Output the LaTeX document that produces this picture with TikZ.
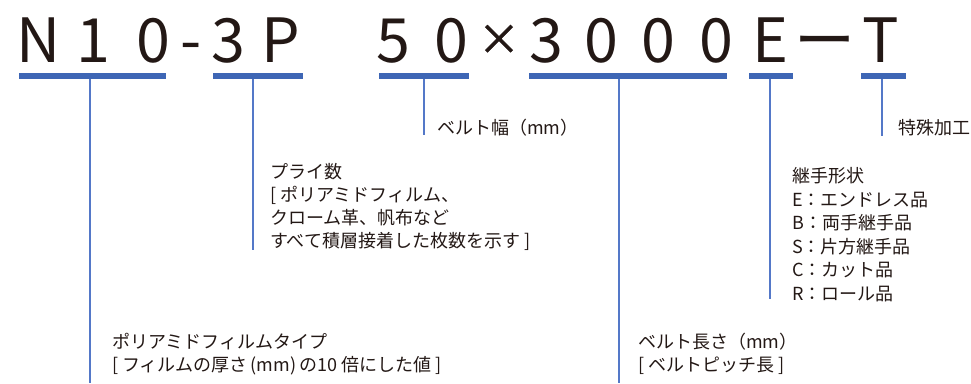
\documentclass[tikz,border=0pt]{standalone}
\usepackage{fontspec}
\newfontfamily\jp{Noto Sans CJK JP}
\newfontfamily\jpx[FakeBold=1.6]{Noto Sans CJK JP}
\definecolor{ink}{RGB}{35,24,21}
\definecolor{barblue}{RGB}{62,102,181}
\definecolor{stemblue}{RGB}{84,120,200}
\tikzset{
  bigch/.style={anchor=base, inner sep=0pt, text=ink, font=\jp\fontsize{61}{61}\selectfont},
  lbl/.style={anchor=base west, inner sep=0pt, text=ink, font=\jp\fontsize{18}{23.5}\selectfont},
  barnode/.style={fill=barblue, draw=none, inner sep=0pt, minimum height=5.5pt},
  stem/.style={draw=stemblue, line width=2pt}
}
\begin{document}
\begin{tikzpicture}[x=1pt,y=-1pt]
\useasboundingbox (0,0) rectangle (971,383);
% code characters
\node[bigch] (c1) at (39,62) {N};
\node[bigch] (c2) at (93,62) {1};
\node[bigch] (c3) at (153,62) {0};
\node[bigch] (c4) at (191,62) {-};
\node[bigch] (c5) at (228,62) {3};
\node[bigch] (c6) at (281,62) {P};
\node[bigch] (c7) at (393,62) {5};
\node[bigch] (c8) at (451,62) {0};
\node[bigch, font=\jpx\fontsize{42}{42}\selectfont] (c9) at (499,54.5) {×};
\node[bigch] (c10) at (546,62) {3};
\node[bigch] (c11) at (601,62) {0};
\node[bigch] (c12) at (658,62) {0};
\node[bigch] (c13) at (716,62) {0};
\node[bigch] (c14) at (770,62) {E};
\node[bigch] (c15) at (825,62) {ー};
\node[bigch] (c16) at (881,62) {T};
% bars
\node[barnode, minimum width=147pt] (b1) at (92.5,76) {};
\node[barnode, minimum width=90pt] (b2) at (258,76) {};
\node[barnode, minimum width=90pt] (b3) at (424,76) {};
\node[barnode, minimum width=198pt] (b4) at (628,76) {};
\node[barnode, minimum width=44pt] (b5) at (771,76) {};
\node[barnode, minimum width=45pt] (b6) at (883.5,76) {};
% stem ends
\coordinate (s1) at (90,383);
\coordinate (s2) at (253,250);
\coordinate (s3) at (424,135);
\coordinate (s4) at (619,383);
\coordinate (s5) at (770,299);
\coordinate (s6) at (882,136);
\draw[stem] (b1.south -| s1) -- (s1);
\draw[stem] (b2.south -| s2) -- (s2);
\draw[stem] (b3.south -| s3) -- (s3);
\draw[stem] (b4.south -| s4) -- (s4);
\draw[stem] (b5.south -| s5) -- (s5);
\draw[stem] (b6.south -| s6) -- (s6);
% labels
\node[lbl] (t3) at (437,134.5) {ベルト幅（mm）};
\node[lbl] (t6) at (898,134.5) {特殊加工};
\node[lbl] (t2a) at (270,178.5) {プライ数};
\node[lbl] (t2b) at (270,201.5) {[ ポリアミドフィルム、};
\node[lbl] (t2c) at (270,224.5) {クローム革、帆布など};
\node[lbl] (t2d) at (270,247.5) {すべて積層接着した枚数を示す ]};
\node[lbl] (t5a) at (792,182.5) {継手形状};
\node[lbl] (t5b) at (792,206) { E：エンドレス品};
\node[lbl] (t5c) at (792,229.5) { B：両手継手品};
\node[lbl] (t5d) at (792,253) { S：片方継手品};
\node[lbl] (t5e) at (792,276.5) { C：カット品};
\node[lbl] (t5f) at (792,300) { R：ロール品};
\node[lbl] (t1a) at (112,348.5) {ポリアミドフィルムタイプ};
\node[lbl] (t1b) at (112,371.5) {[ フィルムの厚さ\,(mm)\,の10 倍にした値 ]};
\node[lbl] (t4a) at (638,348.5) {ベルト長さ（mm）};
\node[lbl] (t4b) at (638,371.5) {[ ベルトピッチ長 ]};
\end{tikzpicture}
\end{document}
